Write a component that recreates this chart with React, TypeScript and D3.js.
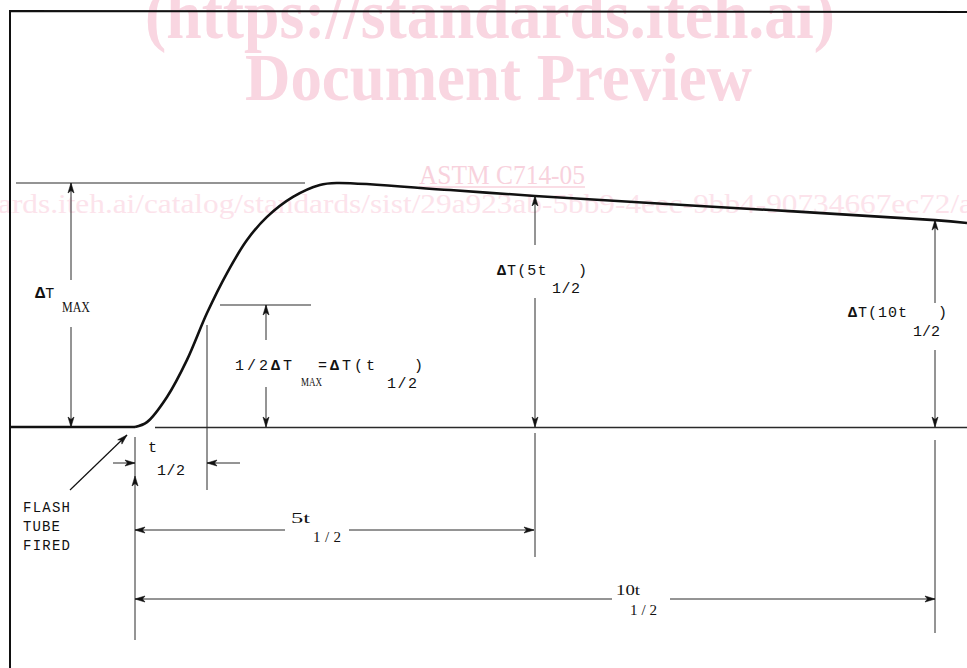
import React from "react";
import * as d3 from "d3";

// Temperature rise history (time in units of t1/2 spacing, rise as fraction of ΔTmax)
const TIME = [0, 0.15, 0.4, 0.65, 0.9, 1.15, 1.4, 1.65, 1.975, 2.31, 2.525, 3.94, 5.0, 7.06, 10.0, 10.4];
const RISE = [0, 0.02, 0.123, 0.275, 0.467, 0.631, 0.766, 0.861, 0.943, 0.992, 1.0, 0.971, 0.947, 0.906, 0.848, 0.836];
// Pre-flash baseline
const BASE_T = [-1.5625, 0];
// Key instants
const T_HALF = 0.9;
const T_FIVE = 5;
const T_TEN = 10;
const FIVE_RISE = 0.947;
const TEN_RISE = 0.848;
const HALF_RISE = 0.5;

const W = 967;
const H = 668;

const x = d3.scaleLinear().domain([0, 10]).range([135, 935]);
const y = d3.scaleLinear().domain([0, 1]).range([427, 183]);

const MONO = "'Liberation Mono', 'DejaVu Sans Mono', monospace";
const SERIF = "'Liberation Serif', 'DejaVu Serif', serif";
const INK = "#111";
const THIN = "#2a2a2a";

function Arrow({ tx, ty, dir }: { tx: number; ty: number; dir: "up" | "down" | "left" | "right" | number }) {
  let ang: number;
  if (typeof dir === "number") ang = dir;
  else ang = { up: -Math.PI / 2, down: Math.PI / 2, left: Math.PI, right: 0 }[dir];
  const L = 10;
  const hw = 3;
  const bx = tx - L * Math.cos(ang);
  const by = ty - L * Math.sin(ang);
  const px = -Math.sin(ang) * hw;
  const py = Math.cos(ang) * hw;
  const d = `M${tx},${ty}L${bx + px},${by + py}L${bx + (tx - bx) * 0.25},${by + (ty - by) * 0.25}L${bx - px},${by - py}Z`;
  return <path d={d} fill={INK} stroke={INK} strokeWidth={0.6} />;
}

function Seg({ x1, y1, x2, y2, w = 1, c = THIN }: any) {
  return <line x1={x1} y1={y1} x2={x2} y2={y2} stroke={c} strokeWidth={w} />;
}

export default function App() {
  const pts: [number, number][] = TIME.map((t, i) => [x(t), y(RISE[i])]);
  const curve = d3.line().curve(d3.curveCatmullRom.alpha(0.5))(pts) || "";
  const base = d3.line()(BASE_T.map((t) => [x(t), y(0)] as [number, number])) || "";

  const y0 = y(0);
  const yMax = y(1);
  const yHalf = y(HALF_RISE);
  const xH = x(T_HALF);
  const x0 = x(0);
  const x5 = x(T_FIVE);
  const x10 = x(T_TEN);
  const y5 = y(FIVE_RISE);
  const y10 = y(TEN_RISE);

  const pink = "#f9d6e1";
  const pinkMid = "#f8d2dd";
  const pinkLight = "#fce3eb";

  return (
    <svg width={W} height={H} style={{ position: "absolute", left: 0, top: 0, background: "#fff" }}>
      <rect x={0} y={0} width={W} height={H} fill="#fff" />
      {/* watermark */}
      <g fontFamily={SERIF}>
        <text x={145} y={38} fontSize={70} fontWeight="bold" fill={pink} textLength={690} lengthAdjust="spacingAndGlyphs">
          (https://standards.iteh.ai)
        </text>
        <text x={245} y={100} fontSize={68} fontWeight="bold" fill={pink} textLength={507} lengthAdjust="spacingAndGlyphs">
          Document Preview
        </text>
        <text x={419} y={184} fontSize={27} fill={pinkMid} textLength={166} lengthAdjust="spacingAndGlyphs">
          ASTM C714-05
        </text>
        <line x1={419} y1={187} x2={585} y2={187} stroke={pinkMid} strokeWidth={1.5} />
        <text x={-2} y={213} fontSize={27} fill={pinkLight} textLength={975} lengthAdjust="spacingAndGlyphs">
          ards.iteh.ai/catalog/standards/sist/29a923ab-5bb9-4eec-9bb4-90734667ec72/a
        </text>
      </g>

      {/* frame */}
      <path d={`M10,${H}L10,11L${W},12`} fill="none" stroke={INK} strokeWidth={2} />

      {/* baseline */}
      <path d={base} fill="none" stroke={INK} strokeWidth={2.5} />
      <Seg x1={x(0.25)} y1={y0 + 0.5} x2={W} y2={y0 + 0.5} w={1.3} />

      {/* curve */}
      <path d={curve} fill="none" stroke={INK} strokeWidth={2.6} strokeLinejoin="round" />

      {/* reference lines */}
      <Seg x1={16} y1={yMax} x2={305} y2={yMax} w={1.2} />
      <Seg x1={220} y1={yHalf} x2={311} y2={yHalf} w={1.2} />

      {/* ΔTmax dimension */}
      <Seg x1={71} y1={yMax} x2={71} y2={280} />
      <Seg x1={71} y1={327} x2={71} y2={y0} />
      <Arrow tx={71} ty={yMax} dir="up" />
      <Arrow tx={71} ty={y0} dir="down" />

      {/* half max dimension */}
      <Seg x1={266} y1={yHalf} x2={266} y2={340} />
      <Seg x1={266} y1={387} x2={266} y2={y0} />
      <Arrow tx={266} ty={yHalf} dir="up" />
      <Arrow tx={266} ty={y0} dir="down" />

      {/* t1/2 verticals */}
      <Seg x1={xH} y1={325} x2={xH} y2={490} />
      <Seg x1={x0} y1={437} x2={x0} y2={640} />
      <Seg x1={113} y1={463} x2={x0} y2={463} />
      <Arrow tx={x0} ty={463} dir="right" />
      <Seg x1={240} y1={463} x2={xH} y2={463} />
      <Arrow tx={xH} ty={463} dir="left" />
      <Arrow tx={x0} ty={476} dir="up" />

      {/* flash tube arrow */}
      <Seg x1={70} y1={490} x2={127} y2={435} w={1.2} c={INK} />
      <Arrow tx={127} ty={435} dir={Math.atan2(435 - 490, 127 - 70)} />

      {/* ΔT(5t1/2) */}
      <Seg x1={x5} y1={y5} x2={x5} y2={245} />
      <Seg x1={x5} y1={298} x2={x5} y2={y0} />
      <Arrow tx={x5} ty={y5} dir="up" />
      <Arrow tx={x5} ty={y0} dir="down" />
      <Seg x1={x5} y1={433} x2={x5} y2={557} />

      {/* ΔT(10t1/2) */}
      <Seg x1={x10} y1={y10} x2={x10} y2={303} />
      <Seg x1={x10} y1={350} x2={x10} y2={y0} />
      <Arrow tx={x10} ty={y10} dir="up" />
      <Arrow tx={x10} ty={y0} dir="down" />
      <Seg x1={x10} y1={440} x2={x10} y2={633} />

      {/* 5t1/2 horizontal */}
      <Seg x1={x0} y1={530} x2={285} y2={530} />
      <Seg x1={349} y1={530} x2={x5 - 1} y2={530} />
      <Arrow tx={x0} ty={530} dir="left" />
      <Arrow tx={x5 - 1} ty={530} dir="right" />

      {/* 10t1/2 horizontal */}
      <Seg x1={x0} y1={599} x2={612} y2={599} />
      <Seg x1={670} y1={599} x2={x10} y2={599} />
      <Arrow tx={x0} ty={599} dir="left" />
      <Arrow tx={x10} ty={599} dir="right" />

      {/* labels */}
      <g fill={INK}>
        <text x={35} y={298} fontFamily={MONO} fontSize={15}>
          <tspan fontWeight="bold" fontSize={17}>Δ</tspan>T
        </text>
        <text x={62} y={312} fontFamily={SERIF} fontSize={14} textLength={28} lengthAdjust="spacingAndGlyphs">MAX</text>

        <text x={235} y={370} fontFamily={MONO} fontSize={15} textLength={57} lengthAdjust="spacing">
          1/2<tspan fontWeight="bold">Δ</tspan>T
        </text>
        <text x={301} y={386} fontFamily={SERIF} fontSize={13} textLength={21} lengthAdjust="spacingAndGlyphs">MAX</text>
        <text x={318} y={370} fontFamily={MONO} fontSize={15} textLength={105} lengthAdjust="spacing">
          =<tspan fontWeight="bold">Δ</tspan>T(t{"\u00a0\u00a0\u00a0"})
        </text>
        <text x={387} y={388} fontFamily={MONO} fontSize={15} textLength={30} lengthAdjust="spacing">1/2</text>

        <text x={497} y={275} fontFamily={MONO} fontSize={15} textLength={90} lengthAdjust="spacing">
          <tspan fontWeight="bold">Δ</tspan>T(5t{"\u00a0\u00a0\u00a0"})
        </text>
        <text x={552} y={293} fontFamily={MONO} fontSize={15} textLength={28} lengthAdjust="spacing">1/2</text>

        <text x={848} y={317} fontFamily={MONO} fontSize={15} textLength={99} lengthAdjust="spacing">
          <tspan fontWeight="bold">Δ</tspan>T(10t{"\u00a0\u00a0\u00a0"})
        </text>
        <text x={913} y={336} fontFamily={MONO} fontSize={15} textLength={27} lengthAdjust="spacing">1/2</text>

        <text x={148} y={452} fontFamily={MONO} fontSize={15}>t</text>
        <text x={157} y={475} fontFamily={MONO} fontSize={15} textLength={28} lengthAdjust="spacing">1/2</text>

        <text x={23} y={512} fontFamily={MONO} fontSize={14} textLength={47} lengthAdjust="spacing">FLASH</text>
        <text x={23} y={531} fontFamily={MONO} fontSize={14} textLength={37} lengthAdjust="spacing">TUBE</text>
        <text x={23} y={550} fontFamily={MONO} fontSize={14} textLength={47} lengthAdjust="spacing">FIRED</text>

        <text x={291} y={523} fontFamily={SERIF} fontSize={15} textLength={19} lengthAdjust="spacingAndGlyphs">5t</text>
        <text x={313} y={542} fontFamily={SERIF} fontSize={15} textLength={28} lengthAdjust="spacing">1/2</text>

        <text x={616} y={595} fontFamily={SERIF} fontSize={15} textLength={24} lengthAdjust="spacingAndGlyphs">10t</text>
        <text x={630} y={615} fontFamily={SERIF} fontSize={15} textLength={27} lengthAdjust="spacing">1/2</text>
      </g>
    </svg>
  );
}
